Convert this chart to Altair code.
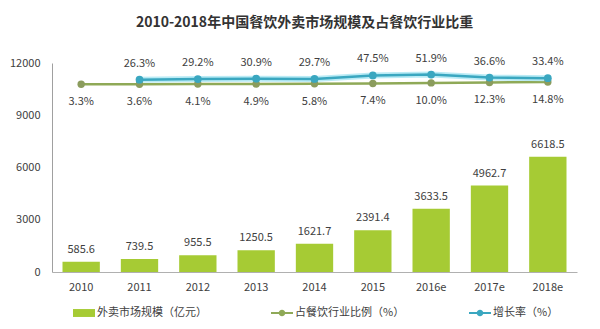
import altair as alt
import pandas as pd

years = ["2010", "2011", "2012", "2013", "2014", "2015", "2016e", "2017e", "2018e"]
market = [585.6, 739.5, 955.5, 1250.5, 1621.7, 2391.4, 3633.5, 4962.7, 6618.5]
share = [3.3, 3.6, 4.1, 4.9, 5.8, 7.4, 10.0, 12.3, 14.8]
growth = [None, 26.3, 29.2, 30.9, 29.7, 47.5, 51.9, 36.6, 33.4]
series = ["外卖市场规模（亿元）", "占餐饮行业比例（%）", "增长率（%）"]
y_ticks = [0, 3000, 6000, 9000, 12000]

BAR = "#a6cb34"
SHARE = "#8fa957"
SHARE_PT = "#8b9c5d"
GROWTH = "#3aa7c0"
GLOW = "#a9e6f2"
FONT = "Noto Sans CJK SC"
TXT = "#404040"

df = pd.DataFrame({"year": years, "market": market, "share": share, "growth": growth})

x = alt.X("year:N", sort=years, title=None,
          scale=alt.Scale(paddingInner=0.36, paddingOuter=0.18),
          axis=alt.Axis(labelAngle=0, ticks=False, domainColor="#b0b0b0", labelPadding=9,
                        labelFontSize=11, labelColor=TXT, labelFont=FONT))

sec = alt.Scale(domain=[-940, 110])

base = alt.Chart(df)

bars = base.mark_bar(color=BAR).encode(
    x=x,
    y=alt.Y("market:Q", title=None, scale=alt.Scale(domain=[0, 12000]),
            axis=alt.Axis(values=y_ticks, format="d", grid=False, ticks=False, domainColor="#a0a0a0",
                          labelPadding=12, labelFontSize=11, labelColor=TXT, labelFont=FONT)),
)
bar_text = base.mark_text(baseline="bottom", dy=-7, fontSize=11, color=TXT, font=FONT).encode(
    x=alt.X("year:N", sort=years),
    y=alt.Y("market:Q"),
    text=alt.Text("market:Q", format=".1f"),
)
left = alt.layer(bars, bar_text)

gdf = base.transform_filter("isValid(datum.growth)")

glow = gdf.mark_line(color=GLOW, strokeWidth=6, opacity=0.8).encode(
    x=alt.X("year:N", sort=years), y=alt.Y("growth:Q", scale=sec, axis=None))
gline = gdf.mark_line(color=GROWTH, strokeWidth=2.5).encode(
    x=alt.X("year:N", sort=years), y=alt.Y("growth:Q", scale=sec, axis=None))
gpts = gdf.mark_point(filled=True, color=GROWTH, size=60, opacity=1).encode(
    x=alt.X("year:N", sort=years), y=alt.Y("growth:Q", scale=sec, axis=None))
gtext = gdf.transform_calculate(lbl="format(datum.growth, '.1f') + '%'").mark_text(
    dy=-16, fontSize=11, color=TXT, font=FONT).encode(
    x=alt.X("year:N", sort=years), y=alt.Y("growth:Q", scale=sec, axis=None), text="lbl:N")

sline = base.mark_line(color=SHARE, strokeWidth=2.5).encode(
    x=alt.X("year:N", sort=years), y=alt.Y("share:Q", scale=sec, axis=None))
spts = base.mark_point(filled=True, color=SHARE_PT, size=55, opacity=1).encode(
    x=alt.X("year:N", sort=years), y=alt.Y("share:Q", scale=sec, axis=None))
stext = base.transform_calculate(lbl="format(datum.share, '.1f') + '%'").mark_text(
    dy=18, fontSize=11, color=TXT, font=FONT).encode(
    x=alt.X("year:N", sort=years), y=alt.Y("share:Q", scale=sec, axis=None), text="lbl:N")

rect_path = "M-1,-0.36H1V0.36H-1Z"
line_path = ("M-1,-0.1H1V0.1H-1Z "
             "M-0.3,0A0.3,0.3 0 1,1 0.3,0A0.3,0.3 0 1,1 -0.3,0Z")

leg = alt.Legend(title=None, orient="none", legendX=21, legendY=239, direction="horizontal",
                 columns=3, columnPadding=64, symbolSize=484, labelOffset=2,
                 labelFont=FONT, labelFontSize=11, labelColor=TXT, symbolStrokeWidth=0,
                 symbolOpacity=1)
legend_layer = alt.Chart(pd.DataFrame({"series": series})).transform_filter("false").mark_point(
    filled=True, opacity=1).encode(
    color=alt.Color("series:N", scale=alt.Scale(domain=series, range=[BAR, SHARE, GROWTH]), legend=leg),
    shape=alt.Shape("series:N", scale=alt.Scale(domain=series, range=[rect_path, line_path, line_path]), legend=leg),
)

right = alt.layer(sline, glow, gline, spts, gpts, stext, gtext, legend_layer)

chart = alt.layer(left, right).resolve_scale(y="independent").properties(
    width=525, height=209,
    autosize=alt.AutoSizeParams(type="none"),
    padding={"left": 52, "top": 63, "right": 23, "bottom": 57},
    background="white",
    title=alt.TitleParams("2010-2018年中国餐饮外卖市场规模及占餐饮行业比重", anchor="middle", dx=-10,
                          offset=23, fontSize=14, font=FONT, fontWeight="bold", color="#333333"),
).configure_view(stroke=None)

chart.save("out.html", embed_options={"renderer": "svg", "actions": False})
